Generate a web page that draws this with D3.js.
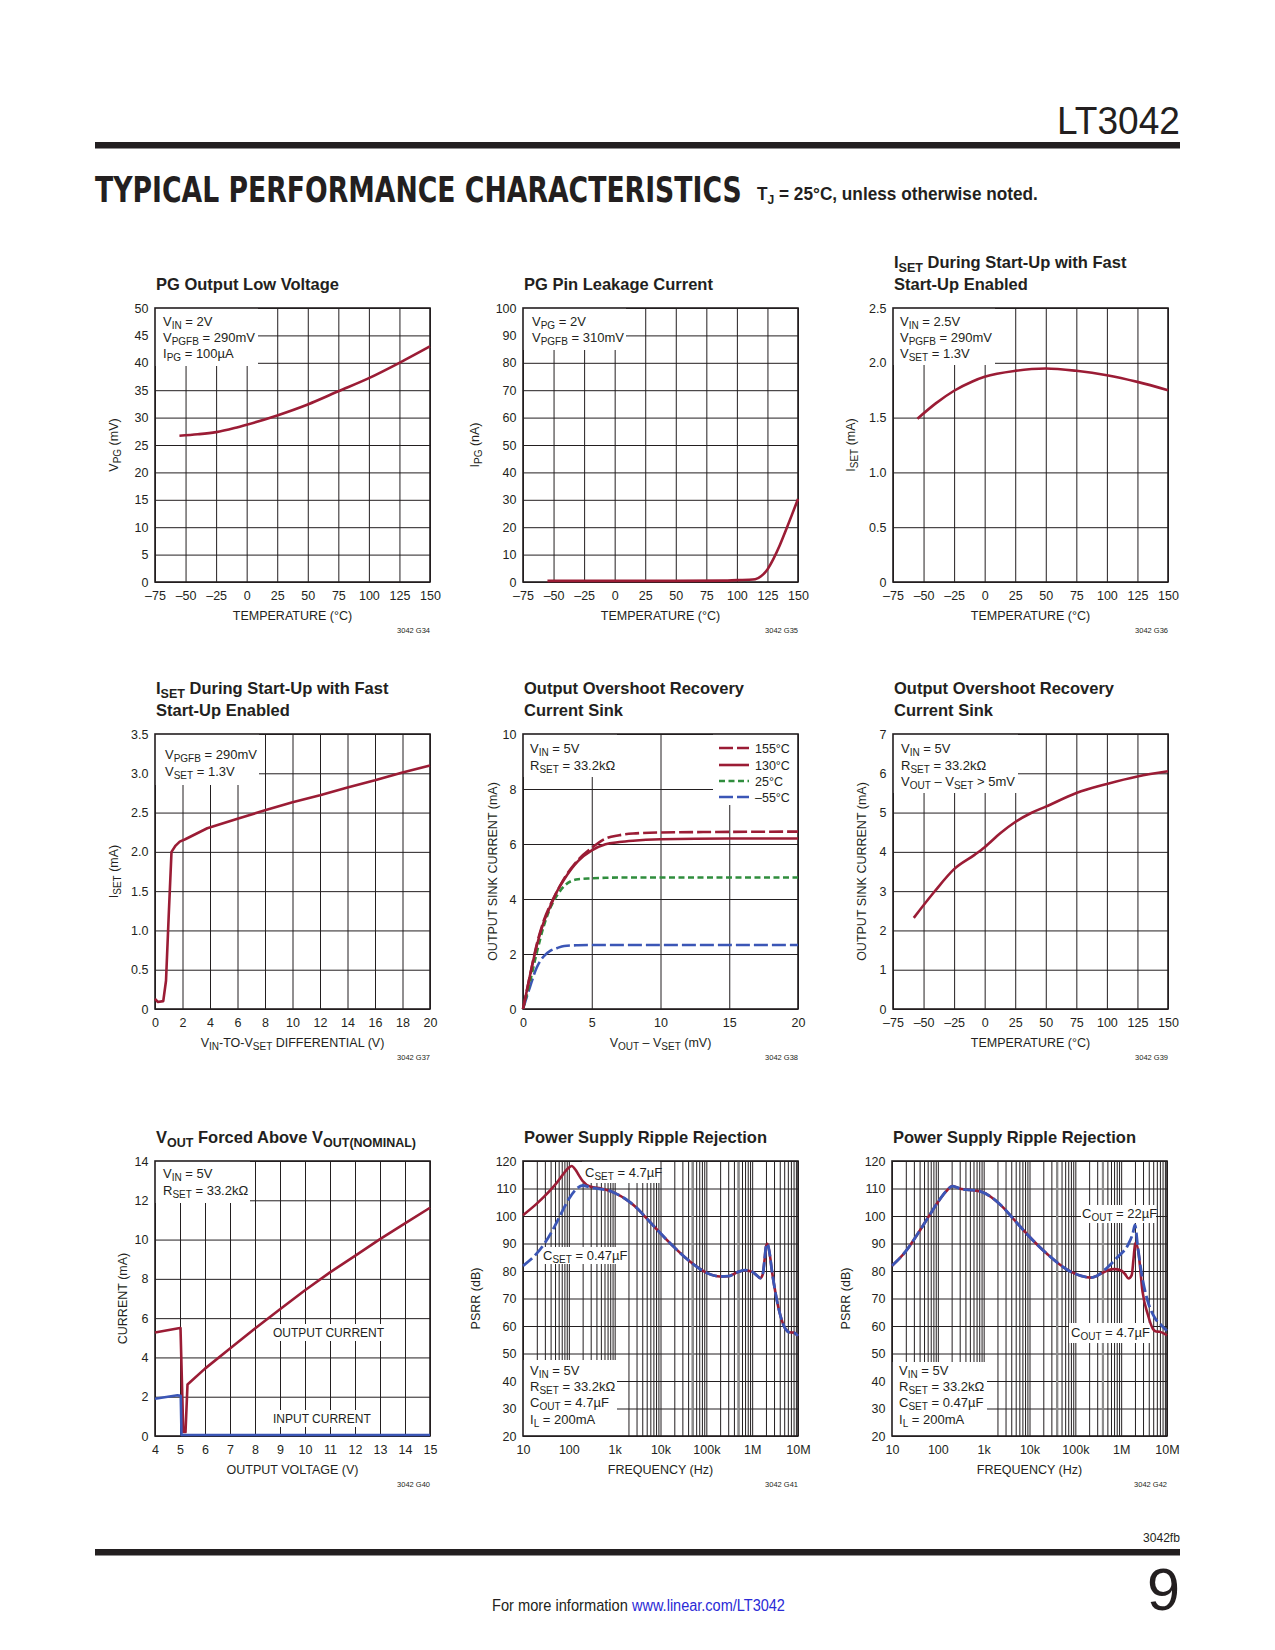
<!DOCTYPE html>
<html><head><meta charset="utf-8">
<script src="https://cdn.jsdelivr.net/npm/d3@7"></script>
<style>
body{margin:0;background:#fff}
svg{display:block}
text{font-family:"Liberation Sans",Arial,Helvetica,sans-serif;fill:#231f20;white-space:pre}
</style>
</head><body>
<svg id="page" width="1275" height="1650"></svg>
<script>
// ---------------- DATA ----------------
// tick values / labels
const tempTicks = [-75, -50, -25, 0, 25, 50, 75, 100, 125, 150];
const tempTickLabels = ['\u201375', '\u201350', '\u201325', '0', '25', '50', '75', '100', '125', '150'];
const vpgTicks = [0, 5, 10, 15, 20, 25, 30, 35, 40, 45, 50];
const vpgTickLabels = ['0', '5', '10', '15', '20', '25', '30', '35', '40', '45', '50'];
const ipgTicks = [0, 10, 20, 30, 40, 50, 60, 70, 80, 90, 100];
const ipgTickLabels = ['0', '10', '20', '30', '40', '50', '60', '70', '80', '90', '100'];
const isetTicks = [0, 0.5, 1, 1.5, 2, 2.5];
const isetTickLabels = ['0', '0.5', '1.0', '1.5', '2.0', '2.5'];
const diffTicks = [0, 2, 4, 6, 8, 10, 12, 14, 16, 18, 20];
const diffTickLabels = ['0', '2', '4', '6', '8', '10', '12', '14', '16', '18', '20'];
const iset2Ticks = [0, 0.5, 1, 1.5, 2, 2.5, 3, 3.5];
const iset2TickLabels = ['0', '0.5', '1.0', '1.5', '2.0', '2.5', '3.0', '3.5'];
const mvTicks = [0, 5, 10, 15, 20];
const mvTickLabels = ['0', '5', '10', '15', '20'];
const sinkTicks = [0, 2, 4, 6, 8, 10];
const sinkTickLabels = ['0', '2', '4', '6', '8', '10'];
const sink2Ticks = [0, 1, 2, 3, 4, 5, 6, 7];
const sink2TickLabels = ['0', '1', '2', '3', '4', '5', '6', '7'];
const voutTicks = [4, 5, 6, 7, 8, 9, 10, 11, 12, 13, 14, 15];
const voutTickLabels = ['4', '5', '6', '7', '8', '9', '10', '11', '12', '13', '14', '15'];
const curTicks = [0, 2, 4, 6, 8, 10, 12, 14];
const curTickLabels = ['0', '2', '4', '6', '8', '10', '12', '14'];
const freqTicks = [10, 100, 1e3, 1e4, 1e5, 1e6, 1e7];
const freqTickLabels = ['10', '100', '1k', '10k', '100k', '1M', '10M'];
const psrrTicks = [20, 30, 40, 50, 60, 70, 80, 90, 100, 110, 120];
const psrrTickLabels = ['20', '30', '40', '50', '60', '70', '80', '90', '100', '110', '120'];

// G34 PG output low voltage
const pgLowTemp = [-55, -40, -25, -10, 0, 25, 50, 75, 100, 125, 150];
const pgLowVpg = [26.7, 26.95, 27.35, 28.1, 28.7, 30.4, 32.4, 34.8, 37.2, 40.0, 43.0];
// G35 PG pin leakage
const pgLeakTemp = [-55, 0, 50, 90, 100, 110, 115, 120, 125, 130, 135, 140, 145, 150];
const pgLeakIpg = [0.4, 0.4, 0.4, 0.5, 0.7, 0.8, 1.0, 2.2, 4.6, 8.5, 13.3, 18.8, 24.5, 30.3];
// G36 ISET vs temperature
const isetTemp = [-55, -40, -25, -10, 0, 25, 50, 75, 100, 125, 150];
const isetTempMa = [1.49, 1.63, 1.745, 1.83, 1.872, 1.927, 1.948, 1.927, 1.887, 1.826, 1.75];
// G37 ISET vs differential
const isetDiffV = [0, 0.2, 0.6, 0.8, 1.0, 1.2, 1.5, 1.8, 2.2, 3, 3.8, 6, 8, 10, 12, 14, 16, 18, 20];
const isetDiffMa = [0.13, 0.09, 0.1, 0.36, 1.2, 2.0, 2.08, 2.13, 2.16, 2.23, 2.3, 2.42, 2.53, 2.63, 2.72, 2.82, 2.91, 3.01, 3.1];
// G38 sink current vs VOUT-VSET
const sinkNames = ['155\u00b0C', '130\u00b0C', '25\u00b0C', '\u201355\u00b0C'];
const sinkDiff = [0, 0.5, 1, 1.5, 2, 2.5, 3, 4, 5, 6, 7, 8, 10, 15, 20];
const sink155 = [0, 1.2, 2.35, 3.2, 3.8, 4.3, 4.75, 5.42, 5.86, 6.2, 6.32, 6.38, 6.42, 6.44, 6.45];
const sink130 = [0, 1.2, 2.3, 3.15, 3.75, 4.3, 4.72, 5.38, 5.77, 5.99, 6.07, 6.12, 6.17, 6.2, 6.2];
const sink25 = [0, 0.97, 2.05, 3.0, 3.69, 4.15, 4.47, 4.72, 4.75, 4.77, 4.78, 4.78, 4.78, 4.78, 4.78];
const sinkM55 = [0, 0.79, 1.51, 1.91, 2.12, 2.22, 2.29, 2.32, 2.33, 2.33, 2.33, 2.33, 2.33, 2.33, 2.33];
// G39 sink current vs temperature
const sinkTemp = [-58, -41, -25, -8, 0, 13, 25, 38, 50, 75, 100, 125, 150];
const sinkTempMa = [2.32, 2.99, 3.56, 3.93, 4.12, 4.48, 4.76, 4.99, 5.15, 5.5, 5.73, 5.92, 6.05];
// G40 VOUT forced above nominal
const outVolt = [4, 5, 5.02, 5.13, 5.22, 5.3, 6, 7, 8, 9, 10, 11, 12, 13, 14, 15];
const outCurrent = [5.27, 5.5, 5.5, 0.2, 0.2, 2.62, 3.43, 4.45, 5.47, 6.45, 7.42, 8.33, 9.17, 10.02, 10.82, 11.62];
const inVolt = [4, 4.9, 5.03, 5.06, 15];
const inCurrent = [1.9, 2.07, 2.05, 0.05, 0.05];
// G41 PSRR vs CSET
const psrrHiFreq = [10, 20, 30, 50, 70, 100, 115, 140, 170, 200, 300, 500, 700];
const psrrCset47 = [100.3, 104.5, 107.3, 111.3, 114.5, 117.6, 118.2, 116.8, 114.5, 112.7, 110.6, 110, 109.4];
const psrrLoFreq = [10, 20, 30, 50, 70, 100, 150, 200, 300, 500, 700];
const psrrCset047 = [81.9, 86.4, 90.2, 96.5, 101.3, 106.2, 110, 111.1, 110.4, 109.8, 109.4];
const psrrTailFreq = [1e3, 2e3, 3e3, 5e3, 1e4, 2e4, 5e4, 1e5, 2e5, 3e5, 5e5, 7e5, 1e6, 1.3e6, 1.5e6, 1.7e6, 1.85e6, 2e6, 2.15e6, 2.4e6, 2.7e6, 3.2e6, 4.1e6, 5.3e6, 6.5e6, 8e6, 1e7];
const psrrTailDb = [108.4, 105.4, 103, 99.1, 93.7, 88.6, 82.7, 79.4, 78, 78.1, 79.7, 80.3, 79.7, 78.2, 77.4, 78.8, 83.5, 88.8, 89.9, 86.5, 80, 72.4, 64, 59, 57.7, 57.6, 56.4];
// G42 PSRR vs COUT
const psrr2Freq = [10, 20, 37, 66, 100, 150, 210, 250, 330, 500, 900, 2450, 5000, 9300, 2.5e4, 6.9e4, 1.35e5, 2.2e5, 3e5];
const psrr2Db = [81.9, 87.2, 93.7, 100.3, 105, 108.9, 110.9, 110.5, 109.8, 109.5, 108.8, 103.7, 98, 93, 86, 80.3, 78.2, 77.6, 78.3];
const cout22Freq = [5e5, 8.5e5, 1.4e6, 1.8e6, 2e6, 2.3e6, 2.75e6, 3.84e6, 5.4e6, 7.5e6, 1e7];
const cout22Db = [81.3, 85.2, 89.4, 93.8, 96.8, 89, 79.7, 68.8, 63, 60.3, 58.3];
const cout47Freq = [5e5, 7e5, 1e6, 1.2e6, 1.45e6, 1.7e6, 1.85e6, 2e6, 2.1e6, 2.37e6, 2.93e6, 3.84e6, 4.9e6, 5.8e6, 6.9e6, 1e7];
const cout47Db = [80.2, 80.7, 80.2, 79, 77.3, 78.5, 84, 89.5, 90.3, 87, 72.4, 64, 59, 58, 57.9, 56.6];

// ---------------- STYLE ----------------
const RED = '#9b1c35', BLUE = '#3b56b6', GREEN = '#2f8d3d', INK = '#231f20';
const FONT = '"Liberation Sans",Arial,Helvetica,sans-serif';
const SUB = 10;
const svg = d3.select('#page');

function rich(sel, str, subSize, shift) {
  const parts = str.split(/(_\{[^}]*\})/).filter(s => s.length);
  let pend = 0;
  parts.forEach(p => {
    if (p.startsWith('_{')) {
      sel.append('tspan').attr('font-size', subSize).attr('dy', shift + pend).text(p.slice(2, -1));
      pend = -shift;
    } else {
      const t = sel.append('tspan').text(p);
      if (pend) t.attr('dy', pend);
      pend = 0;
    }
  });
  return sel;
}

// text squeezed horizontally to a target width (measured, then scaled)
function fitText(str, x, y, width, size, opts) {
  opts = opts || {};
  const g = svg.append('g');
  const t = g.append('text').attr('font-size', size);
  if (opts.bold) t.attr('font-weight', 'bold');
  if (opts.family) t.style('font-family', opts.family);
  if (opts.fill) t.style('fill', opts.fill);
  if (opts.rich) rich(t, str, opts.subSize, opts.shift); else t.text(str);
  const L = t.node().getComputedTextLength();
  const s = width / L;
  const x0 = opts.anchor === 'end' ? x - width : x;
  g.attr('transform', `translate(${x0},${y}) scale(${s},1)`);
  return g;
}

const logGrid = [];
[10, 100, 1e3, 1e4, 1e5, 1e6].forEach(d => { for (let k = 1; k <= 9; k++) logGrid.push(d * k); });
logGrid.push(1e7);

function panel(c) {
  const w = c.w || 275, h = c.h;
  const g = svg.append('g').attr('transform', `translate(${c.left},${c.top})`);
  const x = (c.log ? d3.scaleLog() : d3.scaleLinear()).domain(c.xDomain).range([0, w]);
  const y = d3.scaleLinear().domain(c.yDomain).range([h, 0]);

  const gx = g.append('g').attr('transform', `translate(0,${h})`)
    .call(d3.axisBottom(x).tickValues(c.xGrid).tickSize(-h).tickFormat(''));
  const gy = g.append('g')
    .call(d3.axisLeft(y).tickValues(c.yGrid).tickSize(-w).tickFormat(''));
  [gx, gy].forEach(a => {
    a.select('.domain').remove();
    a.selectAll('line').attr('stroke', INK).attr('stroke-width', 1);
  });
  (c.grey || []).forEach(v => g.append('line')
    .attr('x1', x(v)).attr('x2', x(v)).attr('y1', 0).attr('y2', h)
    .attr('stroke', '#8c8c8c').attr('stroke-width', 2.2));

  (c.boxes || []).forEach(b => g.append('rect')
    .attr('x', b[0]).attr('y', b[1]).attr('width', b[2]).attr('height', b[3]).attr('fill', '#fff'));

  g.append('rect').attr('width', w).attr('height', h)
    .attr('fill', 'none').attr('stroke', INK).attr('stroke-width', 1.6);

  c.series.forEach(s => {
    const pts = s.x.map((v, i) => [v, s.y[i]]);
    const line = d3.line().x(d => x(d[0])).y(d => y(d[1]))
      .curve(s.linear ? d3.curveLinear : d3.curveMonotoneX);
    g.append('path').attr('d', line(pts))
      .attr('fill', 'none').attr('stroke', s.color).attr('stroke-width', s.width || 2.6)
      .attr('stroke-dasharray', s.dash || null)
      .attr('stroke-linejoin', 'round').attr('stroke-linecap', 'butt');
  });

  const ax = g.append('g').attr('transform', `translate(0,${h})`)
    .call(d3.axisBottom(x).tickValues(c.xTicks).tickFormat((d, i) => c.xLabels[i]).tickSize(0).tickPadding(9.5));
  const ay = g.append('g')
    .call(d3.axisLeft(y).tickValues(c.yTicks).tickFormat((d, i) => c.yLabels[i]).tickSize(0).tickPadding(6.5));
  [ax, ay].forEach(a => {
    a.select('.domain').remove();
    a.selectAll('line').remove();
    a.attr('font-family', FONT).attr('font-size', 12.5);
    a.selectAll('text').attr('fill', INK);
  });

  rich(g.append('text').attr('x', w / 2).attr('y', h + 38).attr('text-anchor', 'middle').attr('font-size', 12.5),
    c.xTitle, SUB, 3);
  rich(g.append('text').attr('transform', `translate(${-c.yOff + 4.5},${h / 2}) rotate(-90)`)
    .attr('text-anchor', 'middle').attr('font-size', 12.5), c.yTitle, SUB, 3);

  const tys = c.title.length === 2 ? [-40, -18] : [-18];
  c.title.forEach((t, i) => rich(g.append('text').attr('x', 1).attr('y', tys[i])
    .attr('font-size', 16.5).attr('font-weight', 'bold'), t, 12.5, 3.5));

  g.append('text').attr('x', w).attr('y', h + 51).attr('text-anchor', 'end')
    .attr('font-size', 7.5).text(c.id);

  (c.notes || []).forEach(n => n.lines.forEach((t, i) =>
    rich(g.append('text').attr('x', n.x).attr('y', n.y[i]).attr('font-size', n.size || 13), t, SUB, 3)));

  if (c.legend) {
    c.legend.forEach((L, i) => {
      const yy = c.legendY[i];
      g.append('line').attr('x1', 196).attr('x2', 226).attr('y1', yy).attr('y2', yy)
        .attr('stroke', L.color).attr('stroke-width', 2.6).attr('stroke-dasharray', L.dash || null);
      g.append('text').attr('x', 232).attr('y', yy).attr('dy', '0.36em').attr('font-size', 12.5).text(L.name);
    });
  }
  return g;
}

// ---------------- HEADER ----------------
fitText('LT3042', 1180, 134, 123, 38, { anchor: 'end' });
svg.append('rect').attr('x', 95).attr('y', 142).attr('width', 1085).attr('height', 6.5).attr('fill', INK);
fitText('TYPICAL PERFORMANCE CHARACTERISTICS', 95, 202, 647, 35, { bold: true, family: '"DejaVu Sans",sans-serif' });
fitText('T_{J} = 25\u00b0C, unless otherwise noted.', 757, 200, 281, 18.5, { bold: true, rich: true, subSize: 13, shift: 4 });

// ---------------- PANELS ----------------
panel({ id: '3042 G34', left: 155, top: 308, h: 274, title: ['PG Output Low Voltage'],
  xDomain: [-75, 150], yDomain: [0, 50], xGrid: tempTicks, yGrid: vpgTicks,
  xTicks: tempTicks, xLabels: tempTickLabels, yTicks: vpgTicks, yLabels: vpgTickLabels,
  xTitle: 'TEMPERATURE (\u00b0C)', yTitle: 'V_{PG} (mV)', yOff: 42,
  boxes: [[0, 0, 103, 58]],
  notes: [{ x: 8, y: [18, 34, 50], lines: ['V_{IN} = 2V', 'V_{PGFB} = 290mV', 'I_{PG} = 100\u00b5A'] }],
  series: [{ x: pgLowTemp, y: pgLowVpg, color: RED }] });

panel({ id: '3042 G35', left: 523, top: 308, h: 274, title: ['PG Pin Leakage Current'],
  xDomain: [-75, 150], yDomain: [0, 100], xGrid: tempTicks, yGrid: ipgTicks,
  xTicks: tempTicks, xLabels: tempTickLabels, yTicks: ipgTicks, yLabels: ipgTickLabels,
  xTitle: 'TEMPERATURE (\u00b0C)', yTitle: 'I_{PG} (nA)', yOff: 49,
  boxes: [[0, 0, 103, 42]],
  notes: [{ x: 9, y: [18, 34], lines: ['V_{PG} = 2V', 'V_{PGFB} = 310mV'] }],
  series: [{ x: pgLeakTemp, y: pgLeakIpg, color: RED }] });

panel({ id: '3042 G36', left: 893, top: 308, h: 274, title: ['I_{SET} During Start-Up with Fast', 'Start-Up Enabled'],
  xDomain: [-75, 150], yDomain: [0, 2.5], xGrid: tempTicks, yGrid: isetTicks,
  xTicks: tempTicks, xLabels: tempTickLabels, yTicks: isetTicks, yLabels: isetTickLabels,
  xTitle: 'TEMPERATURE (\u00b0C)', yTitle: 'I_{SET} (mA)', yOff: 43,
  boxes: [[0, 0, 102, 57]],
  notes: [{ x: 7, y: [18, 34, 50], lines: ['V_{IN} = 2.5V', 'V_{PGFB} = 290mV', 'V_{SET} = 1.3V'] }],
  series: [{ x: isetTemp, y: isetTempMa, color: RED }] });

panel({ id: '3042 G37', left: 155, top: 734, h: 275, title: ['I_{SET} During Start-Up with Fast', 'Start-Up Enabled'],
  xDomain: [0, 20], yDomain: [0, 3.5], xGrid: diffTicks, yGrid: iset2Ticks,
  xTicks: diffTicks, xLabels: diffTickLabels, yTicks: iset2Ticks, yLabels: iset2TickLabels,
  xTitle: 'V_{IN}-TO-V_{SET} DIFFERENTIAL (V)', yTitle: 'I_{SET} (mA)', yOff: 42,
  boxes: [[0, 0, 104, 51]],
  notes: [{ x: 10, y: [25, 42], lines: ['V_{PGFB} = 290mV', 'V_{SET} = 1.3V'] }],
  series: [{ x: isetDiffV, y: isetDiffMa, color: RED, linear: true }] });

panel({ id: '3042 G38', left: 523, top: 734, h: 275, title: ['Output Overshoot Recovery', 'Current Sink'],
  xDomain: [0, 20], yDomain: [0, 10], xGrid: mvTicks, yGrid: sinkTicks,
  xTicks: mvTicks, xLabels: mvTickLabels, yTicks: sinkTicks, yLabels: sinkTickLabels,
  xTitle: 'V_{OUT} \u2013 V_{SET} (mV)', yTitle: 'OUTPUT SINK CURRENT (mA)', yOff: 31,
  boxes: [[0, 0, 94, 43], [190, 0, 85, 71]],
  notes: [{ x: 7, y: [19, 36], lines: ['V_{IN} = 5V', 'R_{SET} = 33.2k\u03a9'] }],
  legend: [{ name: sinkNames[0], color: RED, dash: '14,4' }, { name: sinkNames[1], color: RED },
    { name: sinkNames[2], color: GREEN, dash: '6,3.5' }, { name: sinkNames[3], color: BLUE, dash: '14,4' }],
  legendY: [14, 31, 47, 63],
  series: [{ x: sinkDiff, y: sinkM55, color: BLUE, dash: '14,4' },
    { x: sinkDiff, y: sink25, color: GREEN, dash: '6,3.5' },
    { x: sinkDiff, y: sink130, color: RED },
    { x: sinkDiff, y: sink155, color: RED, dash: '14,4' }] });

panel({ id: '3042 G39', left: 893, top: 734, h: 275, title: ['Output Overshoot Recovery', 'Current Sink'],
  xDomain: [-75, 150], yDomain: [0, 7], xGrid: tempTicks, yGrid: sink2Ticks,
  xTicks: tempTicks, xLabels: tempTickLabels, yTicks: sink2Ticks, yLabels: sink2TickLabels,
  xTitle: 'TEMPERATURE (\u00b0C)', yTitle: 'OUTPUT SINK CURRENT (mA)', yOff: 32,
  boxes: [[0, 0, 125, 59]],
  notes: [{ x: 8, y: [19, 36, 52], lines: ['V_{IN} = 5V', 'R_{SET} = 33.2k\u03a9', 'V_{OUT} \u2013 V_{SET} > 5mV'] }],
  series: [{ x: sinkTemp, y: sinkTempMa, color: RED }] });

panel({ id: '3042 G40', left: 155, top: 1161, h: 275, title: ['V_{OUT} Forced Above V_{OUT(NOMINAL)}'],
  xDomain: [4, 15], yDomain: [0, 14], xGrid: voutTicks, yGrid: curTicks,
  xTicks: voutTicks, xLabels: voutTickLabels, yTicks: curTicks, yLabels: curTickLabels,
  xTitle: 'OUTPUT VOLTAGE (V)', yTitle: 'CURRENT (mA)', yOff: 33,
  boxes: [[0, 0, 95, 42], [115, 163, 115, 17], [115, 249, 105, 17]],
  notes: [{ x: 8, y: [17, 34], lines: ['V_{IN} = 5V', 'R_{SET} = 33.2k\u03a9'] },
    { x: 118, y: [176], lines: ['OUTPUT CURRENT'], size: 12 },
    { x: 118, y: [262], lines: ['INPUT CURRENT'], size: 12 }],
  series: [{ x: outVolt, y: outCurrent, color: RED, linear: true },
    { x: inVolt, y: inCurrent, color: BLUE, linear: true }] });

panel({ id: '3042 G41', left: 523, top: 1161, h: 275, log: true, title: ['Power Supply Ripple Rejection'],
  xDomain: [10, 1e7], yDomain: [20, 120], xGrid: logGrid, yGrid: psrrTicks, grey: [5e4, 5e5],
  xTicks: freqTicks, xLabels: freqTickLabels, yTicks: psrrTicks, yLabels: psrrTickLabels,
  xTitle: 'FREQUENCY (Hz)', yTitle: 'PSRR (dB)', yOff: 48,
  boxes: [[59, 0, 78, 22], [19, 86, 85, 17], [0, 199, 94, 76]],
  notes: [{ x: 62, y: [16], lines: ['C_{SET} = 4.7\u00b5F'] },
    { x: 20, y: [99], lines: ['C_{SET} = 0.47\u00b5F'] },
    { x: 7, y: [214, 230, 246, 263], lines: ['V_{IN} = 5V', 'R_{SET} = 33.2k\u03a9', 'C_{OUT} = 4.7\u00b5F', 'I_{L} = 200mA'] }],
  series: [{ x: psrrHiFreq.concat(psrrTailFreq), y: psrrCset47.concat(psrrTailDb), color: RED },
    { x: psrrLoFreq.concat(psrrTailFreq), y: psrrCset047.concat(psrrTailDb), color: BLUE, dash: '12,4', width: 2.8 }] });

panel({ id: '3042 G42', left: 892, top: 1161, h: 275, log: true, title: ['Power Supply Ripple Rejection'],
  xDomain: [10, 1e7], yDomain: [20, 120], xGrid: logGrid, yGrid: psrrTicks, grey: [4e4, 4e5],
  xTicks: freqTicks, xLabels: freqTickLabels, yTicks: psrrTicks, yLabels: psrrTickLabels,
  xTitle: 'FREQUENCY (Hz)', yTitle: 'PSRR (dB)', yOff: 47,
  boxes: [[189, 44, 75, 18], [177, 162, 82, 20], [0, 201, 95, 74]],
  notes: [{ x: 190, y: [57], lines: ['C_{OUT} = 22\u00b5F'] },
    { x: 179, y: [176], lines: ['C_{OUT} = 4.7\u00b5F'] },
    { x: 7, y: [214, 230, 246, 263], lines: ['V_{IN} = 5V', 'R_{SET} = 33.2k\u03a9', 'C_{SET} = 0.47\u00b5F', 'I_{L} = 200mA'] }],
  series: [{ x: psrr2Freq.concat(cout47Freq), y: psrr2Db.concat(cout47Db), color: RED },
    { x: psrr2Freq.concat(cout22Freq), y: psrr2Db.concat(cout22Db), color: BLUE, dash: '12,4', width: 2.8 }] });

// ---------------- FOOTER ----------------
fitText('3042fb', 1180, 1542, 37, 12, { anchor: 'end' });
svg.append('rect').attr('x', 95).attr('y', 1549).attr('width', 1085).attr('height', 6.5).attr('fill', INK);
fitText('9', 1180, 1610, 33, 60, { anchor: 'end' });
fitText('For more information', 492, 1611, 136, 16);
fitText('www.linear.com/LT3042', 632, 1611, 153, 16, { fill: '#2a2ad6' });
</script>
</body></html>
